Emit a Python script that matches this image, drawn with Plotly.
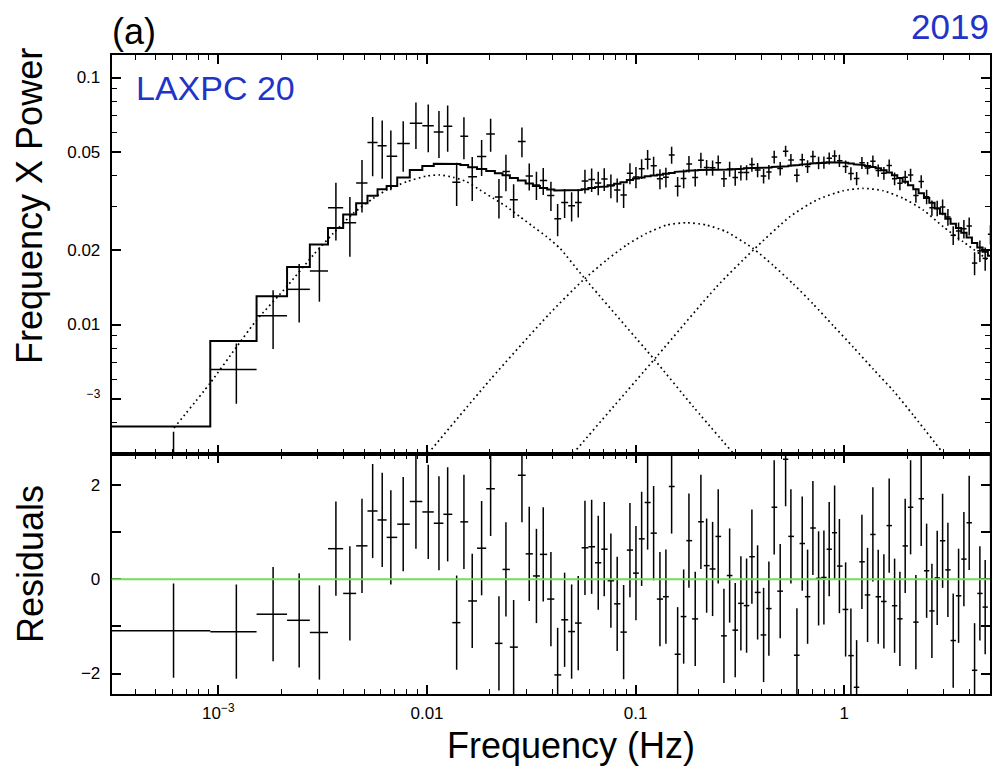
import plotly.graph_objects as go

# ---- binned power spectrum (frequency in Hz, frequency x power) ----
freq = [0.00061, 0.00122, 0.00183, 0.00244, 0.00305, 0.00366, 0.00427, 0.00488, 0.00549, 0.00610,
        0.00671, 0.00769, 0.00885, 0.01014, 0.01141, 0.01256, 0.01387, 0.01503, 0.01647, 0.01827,
        0.02018, 0.02212, 0.02389, 0.02601, 0.02851, 0.0309, 0.03345, 0.03606, 0.03925, 0.04227,
        0.04565, 0.04932, 0.05306, 0.05714, 0.06152, 0.06616, 0.07068, 0.07607, 0.08155, 0.08755,
        0.09387, 0.1003, 0.1068, 0.1141, 0.1219, 0.1307, 0.1396, 0.1487, 0.1589, 0.1698,
        0.1800, 0.1929, 0.2054, 0.2188, 0.2337, 0.2486, 0.2648, 0.2820, 0.2999, 0.3193,
        0.3400, 0.3606, 0.3840, 0.4102, 0.4349, 0.4611, 0.4927, 0.5230, 0.5545, 0.5924,
        0.6282, 0.6666, 0.7068, 0.7526, 0.7980, 0.8461, 0.8982, 0.9469, 1.014, 1.075,
        1.145, 1.214, 1.292, 1.370, 1.453, 1.547, 1.640, 1.741, 1.846, 1.957,
        2.077, 2.202, 2.335, 2.479, 2.628, 2.786, 2.957, 3.135, 3.324, 3.527,
        3.740, 3.965, 4.208, 4.462, 4.731, 5.015, 5.32, 5.64]

power = [0.00168, 0.00658, 0.01085, 0.01388, 0.01647, 0.02967, 0.02580, 0.03739, 0.05452, 0.05294,
         0.04797, 0.05403, 0.06530, 0.06382, 0.06017, 0.06353, 0.03770, 0.05786, 0.03962, 0.04788,
         0.05908, 0.03284, 0.04167, 0.03200, 0.05510, 0.03990, 0.03674, 0.03824, 0.03331, 0.02678,
         0.03119, 0.03025, 0.03119, 0.03811, 0.03860, 0.03744, 0.03882, 0.03648, 0.03507, 0.03344,
         0.04098, 0.03951, 0.04275, 0.04665, 0.04392, 0.03889, 0.03947, 0.04859, 0.03625, 0.03901,
         0.04469, 0.03941, 0.04623, 0.04320, 0.04308, 0.04522, 0.03892, 0.04264, 0.03937, 0.04122,
         0.04128, 0.04439, 0.04222, 0.03991, 0.04146, 0.04768, 0.04282, 0.05033, 0.04636, 0.04017,
         0.04645, 0.04364, 0.04784, 0.04515, 0.04530, 0.04706, 0.04807, 0.04603, 0.04360, 0.04085,
         0.03900, 0.04513, 0.04297, 0.04578, 0.04201, 0.04097, 0.04405, 0.03891, 0.03727, 0.03950,
         0.04027, 0.03330, 0.03793, 0.03290, 0.02969, 0.02956, 0.02990, 0.02722, 0.02300, 0.02390,
         0.02440, 0.02502, 0.01773, 0.01990, 0.01852, 0.02320, 0.01640, 0.01390]

power_err = [0.0020, 0.0018, 0.0029, 0.0037, 0.0041, 0.0078, 0.0070, 0.0090, 0.0147, 0.0140,
             0.0130, 0.0125, 0.0140, 0.0140, 0.0130, 0.0135, 0.0075, 0.0112, 0.0080, 0.0080,
             0.0090, 0.0060, 0.0070, 0.0050, 0.0076, 0.0050, 0.0048, 0.0048, 0.0045, 0.0040,
             0.0042, 0.0041, 0.0041, 0.0042, 0.0042, 0.0041, 0.0041, 0.0040, 0.0039, 0.0038,
             0.0040, 0.0039, 0.0039, 0.0042, 0.0039, 0.0036, 0.0036, 0.0038, 0.0033, 0.0034,
             0.0034, 0.0032, 0.0033, 0.0031, 0.0031, 0.0031, 0.0029, 0.0030, 0.0029, 0.0029,
             0.0029, 0.0029, 0.0028, 0.0027, 0.0028, 0.0028, 0.0027, 0.0026, 0.0027, 0.0025,
             0.0027, 0.0026, 0.0027, 0.0026, 0.0026, 0.0026, 0.0027, 0.0026, 0.0025, 0.0025,
             0.0024, 0.0025, 0.0025, 0.0025, 0.0024, 0.0024, 0.0025, 0.0023, 0.0023, 0.0024,
             0.0024, 0.0022, 0.0023, 0.0022, 0.0021, 0.0021, 0.0022, 0.0021, 0.0020, 0.0020,
             0.0021, 0.0021, 0.0019, 0.0020, 0.0020, 0.0021, 0.0019, 0.0019]

# best-fit total model, one value per bin
model = [0.00386, 0.00858, 0.0130, 0.0171, 0.0211, 0.0246, 0.0279, 0.0310, 0.0332, 0.0353,
         0.0364, 0.0394, 0.0422, 0.0438, 0.0447, 0.0449, 0.0446, 0.0442, 0.0433, 0.0426,
         0.0418, 0.0410, 0.0402, 0.0392, 0.0383, 0.0372, 0.0364, 0.0357, 0.0352, 0.0349,
         0.0348, 0.0348, 0.0350, 0.0353, 0.0357, 0.0360, 0.0362, 0.0366, 0.0371, 0.0377,
         0.0385, 0.0390, 0.0394, 0.0398, 0.0401, 0.0404, 0.0408, 0.0411, 0.0415, 0.0417,
         0.0419, 0.0421, 0.0422, 0.0423, 0.0424, 0.0424, 0.0424, 0.0424, 0.0425, 0.0427,
         0.0429, 0.0430, 0.0430, 0.0431, 0.0432, 0.0434, 0.0435, 0.0437, 0.0439, 0.0442,
         0.0444, 0.0446, 0.0449, 0.0451, 0.0452, 0.0454, 0.0454, 0.0453, 0.0452, 0.0449,
         0.0445, 0.0442, 0.0438, 0.0434, 0.0429, 0.0421, 0.0412, 0.0402, 0.0392, 0.0378,
         0.0366, 0.0353, 0.0340, 0.0325, 0.0311, 0.0295, 0.0281, 0.0268, 0.0256, 0.0246,
         0.0235, 0.0225, 0.0214, 0.0205, 0.0197, 0.0190, 0.0183, 0.0176]

# Lorentzian components of the model
lor1_freq = [6.13e-4, 9.12e-4, 1.225e-3, 1.527e-3, 2.126e-3, 2.851e-3, 3.555e-3, 4.432e-3, 5.53e-3,
             6.41e-3, 7.99e-3, 9.96e-3, 1.153e-2, 1.336e-2, 1.549e-2, 1.794e-2, 2.077e-2, 2.408e-2,
             2.788e-2, 3.229e-2, 3.744e-2, 4.336e-2, 5.607e-2, 0.1214, 0.1887, 0.2934]
lor1_pow = [0.00381, 0.00578, 0.00813, 0.01043, 0.01422, 0.01911, 0.02339, 0.02819, 0.03243,
            0.03502, 0.03785, 0.03992, 0.04030, 0.03945, 0.03785, 0.03502, 0.03243, 0.02998,
            0.02732, 0.02489, 0.02267, 0.02035, 0.01561, 0.0073, 0.00465, 0.00301]

lor2_freq = [0.01014, 0.02002, 0.03882, 0.05607, 0.07257, 0.09051, 0.1128, 0.1407, 0.1754, 0.2188,
             0.2727, 0.3659, 0.4560, 0.5689, 0.7093, 0.8843, 1.103, 1.375, 1.714, 2.137, 2.977]
lor2_pow = [0.00301, 0.00596, 0.01110, 0.01514, 0.01824, 0.02099, 0.02339, 0.02527, 0.02583, 0.02527,
            0.02370, 0.02030, 0.01735, 0.01460, 0.01210, 0.00990, 0.00810, 0.00660, 0.00540, 0.00430,
            0.00301]

lor3_freq = [0.05022, 0.126, 0.2443, 0.3659, 0.5484, 0.7362, 0.9874, 1.231, 1.536, 1.914, 2.387,
             2.977, 3.711, 4.891]
lor3_pow = [0.00301, 0.00741, 0.01422, 0.02002, 0.02732, 0.03192, 0.03480, 0.03558, 0.03480,
            0.03243, 0.02909, 0.02489, 0.02163, 0.01824]

x_tickvals = [1e-3, 1e-2, 0.1, 1]
x_ticktext = ["10<sup>\u22123</sup>", "0.01", "0.1", "1"]
y_tickvals = [0.005, 0.01, 0.02, 0.05, 0.1]
y_ticktext = ["<sup>\u22123</sup>", "0.01", "0.02", "0.05", "0.1"]
r_tickvals = [-2, 0, 2]
r_ticktext = ["\u22122", "0", "2"]
r_minor = [-1, 1]

# ---- derived quantities ----
n = len(freq)
edges = [freq[0] - (freq[1] - freq[0]) / 2]
edges += [(freq[i] + freq[i + 1]) / 2 for i in range(n - 1)]
edges.append(freq[-1] + (freq[-1] - freq[-2]) / 2)
xerr_lo = [freq[i] - edges[i] for i in range(n)]
xerr_hi = [edges[i + 1] - freq[i] for i in range(n)]
err_lo = [min(e, 0.999 * p) for e, p in zip(power_err, power)]
resid = [(p - m) / e for p, m, e in zip(power, model, power_err)]

step_x, step_y = [], []
for i in range(n):
    step_x += [edges[i], edges[i + 1]]
    step_y += [model[i], model[i]]

FONT = "Liberation Sans, Arial, Helvetica, sans-serif"
BLUE = "#2233c8"

fig = go.Figure()

for fx, fy in [(lor1_freq, lor1_pow), (lor2_freq, lor2_pow), (lor3_freq, lor3_pow)]:
    fig.add_trace(go.Scatter(x=fx, y=fy, mode="lines", xaxis="x", yaxis="y",
                             line=dict(color="black", width=1.7, dash="1.7px,3.3px",
                                       shape="spline", smoothing=0.6),
                             showlegend=False, hoverinfo="skip"))

fig.add_trace(go.Scatter(x=step_x, y=step_y, mode="lines", xaxis="x", yaxis="y",
                         line=dict(color="black", width=2), showlegend=False))

fig.add_trace(go.Scatter(
    x=freq, y=power, mode="markers", xaxis="x", yaxis="y",
    marker=dict(size=1, color="rgba(0,0,0,0)"),
    error_y=dict(type="data", array=power_err, arrayminus=err_lo, symmetric=False,
                 color="black", thickness=1.5, width=0),
    error_x=dict(type="data", array=xerr_hi, arrayminus=xerr_lo, symmetric=False,
                 color="black", thickness=1.5, width=0),
    showlegend=False))

fig.add_trace(go.Scatter(
    x=freq, y=resid, mode="markers", xaxis="x2", yaxis="y2",
    marker=dict(size=1, color="rgba(0,0,0,0)"),
    error_y=dict(type="constant", value=1, color="black", thickness=1.5, width=0),
    error_x=dict(type="data", array=xerr_hi, arrayminus=xerr_lo, symmetric=False,
                 color="black", thickness=1.5, width=0),
    showlegend=False))

W, H = 995, 771
left, right = 111.7 / W, 990 / W
top_dom = [1 - 454 / H, 1 - 55 / H]
bot_dom = [1 - 694 / H, 1 - 454 / H]
xr = [-3.511, 0.698]

x_minor = [k * 10 ** d for d in range(-4, 1) for k in range(2, 10)]
y_minor = [0.003, 0.004, 0.006, 0.007, 0.008, 0.009, 0.03, 0.04, 0.06, 0.07, 0.08, 0.09]

axis_common = dict(showline=True, linecolor="black", linewidth=2, mirror="allticks",
                   ticks="inside", tickcolor="black", tickwidth=1.5, ticklen=9,
                   showgrid=False, zeroline=False,
                   tickfont=dict(family=FONT, size=17, color="black"))

minor_log = dict(ticks="inside", ticklen=5, tickwidth=1.2, tickcolor="black", showgrid=False)

fig.update_layout(
    width=W, height=H, margin=dict(l=0, r=0, t=0, b=0),
    paper_bgcolor="white", plot_bgcolor="white",
    xaxis=dict(type="log", range=xr, domain=[left, right], anchor="y",
               tickmode="array", tickvals=x_tickvals, showticklabels=False,
               minor=dict(tickvals=x_minor, **minor_log),
               **axis_common),
    yaxis=dict(type="log", range=[-2.5243, -0.9089], domain=top_dom, anchor="x",
               tickmode="array", tickvals=y_tickvals, ticktext=y_ticktext,
               ticklabelstandoff=6,
               minor=dict(tickvals=y_minor, **minor_log),
               **axis_common),
    xaxis2=dict(type="log", range=xr, domain=[left, right], anchor="y2",
                tickmode="array", tickvals=x_tickvals, ticktext=x_ticktext,
                ticklabelstandoff=3,
                minor=dict(tickvals=x_minor, **minor_log),
                **axis_common),
    yaxis2=dict(range=[-2.435, 2.66], domain=bot_dom, anchor="x2",
                tickmode="array", tickvals=r_tickvals, ticktext=r_ticktext,
                ticklabelstandoff=6,
                minor=dict(tickvals=r_minor, ticks="inside", ticklen=9, tickwidth=1.5,
                           tickcolor="black", showgrid=False),
                **axis_common),
    shapes=[dict(type="line", xref="x2 domain", yref="y2", x0=0, x1=1, y0=0, y1=0,
                 line=dict(color="#74de55", width=2), layer="above")],
    annotations=[
        dict(text="(a)", x=110 / W, y=1 - 32 / H, xref="paper", yref="paper",
             xanchor="left", yanchor="middle", showarrow=False,
             font=dict(family=FONT, size=36, color="black")),
        dict(text="2019", x=991 / W, y=1 - 27 / H, xref="paper", yref="paper",
             xanchor="right", yanchor="middle", showarrow=False,
             font=dict(family=FONT, size=35, color=BLUE)),
        dict(text="LAXPC 20", x=134 / W, y=1 - 88 / H, xref="paper", yref="paper",
             xanchor="left", yanchor="middle", showarrow=False,
             font=dict(family=FONT, size=34, color=BLUE)),
        dict(text="Frequency X Power", x=30 / W, y=1 - 206 / H, xref="paper", yref="paper",
             xanchor="center", yanchor="middle", textangle=-90, showarrow=False,
             font=dict(family=FONT, size=36, color="black")),
        dict(text="Residuals", x=30 / W, y=1 - 564 / H, xref="paper", yref="paper",
             xanchor="center", yanchor="middle", textangle=-90, showarrow=False,
             font=dict(family=FONT, size=36, color="black")),
        dict(text="Frequency (Hz)", x=571 / W, y=1 - 745 / H, xref="paper", yref="paper",
             xanchor="center", yanchor="middle", showarrow=False,
             font=dict(family=FONT, size=36, color="black")),
    ],
)

fig.write_html("out.html")
